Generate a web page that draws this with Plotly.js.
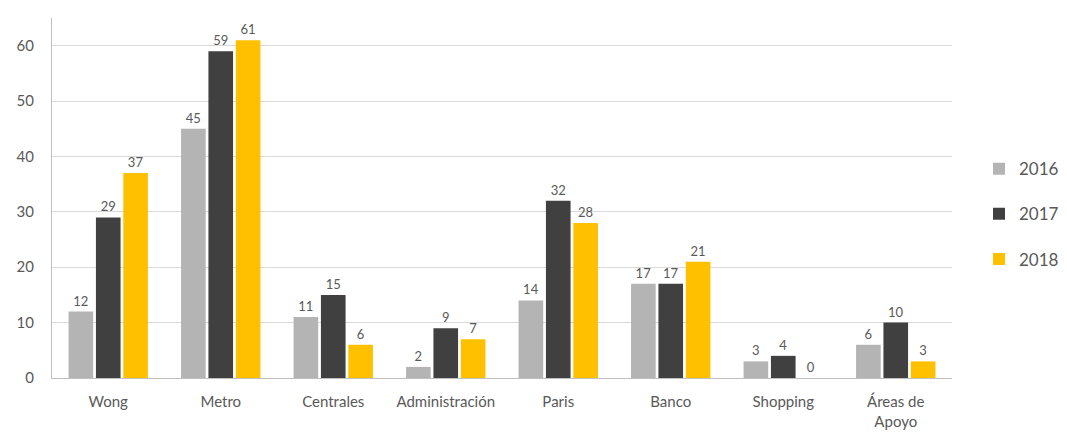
<!DOCTYPE html>
<html>
<head>
<meta charset="utf-8">
<script src="https://cdn.plot.ly/plotly-3.0.1.min.js"></script>
<style>html,body{margin:0;padding:0;background:#fff;}#chart{width:1067px;height:432px;}</style>
</head>
<body>
<div id="chart"></div>
<script>
const categories = ["Wong", "Metro", "Centrales", "Administración", "Paris", "Banco", "Shopping", "Áreas de<br>Apoyo"];
const seriesNames = ["2016", "2017", "2018"];
const values2016 = [12, 45, 11, 2, 14, 17, 3, 6];
const values2017 = [29, 59, 15, 9, 32, 17, 4, 10];
const values2018 = [37, 61, 6, 7, 28, 21, 0, 3];
const colors = ["#b4b4b4", "#404040", "#ffc000"];
const yTicks = [0, 10, 20, 30, 40, 50, 60];

const allValues = [values2016, values2017, values2018];
const traces = allValues.map((vals, i) => ({
  type: "bar",
  name: seriesNames[i],
  legendgroup: seriesNames[i],
  x: categories,
  y: vals,
  marker: {color: colors[i]},
  text: vals.map(String),
  textposition: "outside",
  cliponaxis: false,
  textfont: {family: "Lato, 'DejaVu Sans', sans-serif", size: 13, color: "#595959"}
}));

const layout = {
  width: 1067,
  height: 432,
  margin: {l: 52, r: 115, t: 18, b: 54, autoexpand: false},
  paper_bgcolor: "#fff",
  plot_bgcolor: "#fff",
  barmode: "group",
  bargap: 0.27,
  bargroupgap: 0.1,
  font: {family: "Lato, 'DejaVu Sans', sans-serif", color: "#595959", size: 14},
  xaxis: {
    showgrid: false,
    showline: true,
    linecolor: "#bfbfbf",
    linewidth: 1,
    ticks: "",
    ticklabelstandoff: 10,
    tickfont: {size: 15, color: "#595959"},
    automargin: false
  },
  yaxis: {
    range: [0, 65],
    tickvals: yTicks,
    ticktext: yTicks.map(String),
    showgrid: true,
    gridcolor: "#d9d9d9",
    zeroline: false,
    showline: true,
    linecolor: "#bfbfbf",
    ticks: "",
    ticklabelstandoff: 14,
    tickfont: {size: 15, color: "#595959"},
    automargin: false
  },
  legend: {
    x: 1.03, xanchor: "left",
    y: 0.455, yanchor: "middle",
    font: {size: 17, color: "#595959"},
    itemwidth: 30,
    traceorder: "grouped",
    tracegroupgap: 20,
    bgcolor: "rgba(0,0,0,0)"
  },
  showlegend: true
};

Plotly.newPlot("chart", traces, layout, {displayModeBar: false, staticPlot: true});
</script>
</body>
</html>
